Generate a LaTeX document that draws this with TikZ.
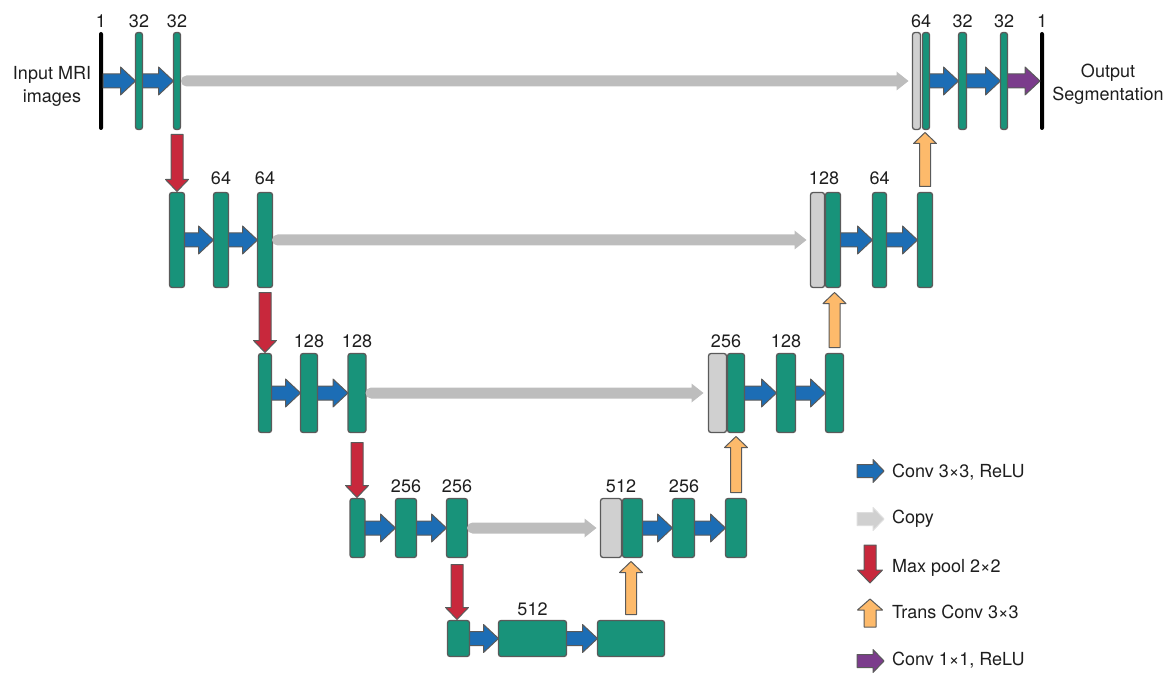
\documentclass[tikz,border=0pt]{standalone}
\usepackage{fontspec}
\setmainfont{TeX Gyre Heros}
\usetikzlibrary{calc}

\definecolor{tealc}{HTML}{18937A}
\definecolor{edgec}{HTML}{5A5A5A}
\definecolor{bluec}{HTML}{1C6DB5}
\definecolor{catc}{HTML}{D0D0D0}
\definecolor{copyc}{HTML}{BDBDBD}
\definecolor{poolc}{HTML}{C8283C}
\definecolor{transc}{HTML}{FDBA6B}
\definecolor{purpc}{HTML}{7B3C8C}
\definecolor{inkc}{HTML}{1E1E1E}

% horizontal block arrow: start, end, style, half body, half head, head length
\newcommand\harr[6]{%
  \draw[#3] let \p1=(#1), \p2=(#2) in
    (\x1,{\y1+#4}) -- ({\x2-#6},{\y1+#4}) -- ({\x2-#6},{\y1+#5}) -- (\x2,\y1)
    -- ({\x2-#6},{\y1-#5}) -- ({\x2-#6},{\y1-#4}) -- (\x1,{\y1-#4}) -- cycle;}

% vertical block arrow (up or down): start, end, style, half body, half head, head length
\newcommand\varr[6]{%
  \draw[#3] let \p1=(#1), \p2=(#2), \n1={sign(\y1-\y2)} in
    ({\x1-#4},\y1) -- ({\x1-#4},{\y2+\n1*#6}) -- ({\x1-#5},{\y2+\n1*#6}) -- (\x1,\y2)
    -- ({\x1+#5},{\y2+\n1*#6}) -- ({\x1+#4},{\y2+\n1*#6}) -- ({\x1+#4},\y1) -- cycle;}

% skip connection: grey arrow with a rounded tail
\newcommand\copyarr[2]{%
  \fill[copyc] let \p1=(#1), \p2=(#2) in
    (\x1,{\y1+5.5pt}) -- ({\x2-12pt},{\y1+5.5pt}) -- ({\x2-12pt},{\y1+9.5pt}) -- (\x2,\y1)
    -- ({\x2-12pt},{\y1-9.5pt}) -- ({\x2-12pt},{\y1-5.5pt}) -- (\x1,{\y1-5.5pt})
    arc[start angle=270, end angle=90, radius=5.5pt] -- cycle;}

\begin{document}
\begin{tikzpicture}[x=1pt,y=-1pt,
  every node/.style={font=\fontsize{18}{23}\selectfont, text=inkc, inner sep=0pt, outer sep=0pt},
  fmap/.style={draw=edgec, fill=tealc, line width=1.3pt, rounded corners=2.5pt},
  catmap/.style={draw=edgec, fill=catc, line width=1.3pt, rounded corners=2.5pt},
  iobar/.style={fill=black, minimum width=4pt, minimum height=98pt, rounded corners=2pt},
  lone/.style={minimum height=97pt},
  ltwo/.style={minimum height=95pt},
  lthree/.style={minimum height=79pt},
  lfour/.style={minimum height=59pt},
  lfive/.style={minimum height=36pt},
  lbl/.style={anchor=base},
  conv/.style={fill=bluec, draw=edgec, line width=1pt, line join=round},
  final/.style={fill=purpc, draw=edgec, line width=1pt, line join=round},
  pool/.style={fill=poolc, draw=edgec, line width=1pt, line join=round},
  trans/.style={fill=transc, draw=edgec, line width=1pt, line join=round},
  copykey/.style={fill=catc, draw=catc!70!white, line width=1pt, line join=round},
  legtext/.style={anchor=base west}]

\useasboundingbox (0,0) rectangle (1172,676);

% ---- level 1 ----
\node[iobar] (inp) at (101,81) {};
\node[fmap,lone,minimum width=7pt] (e1a) at (139,81) {};
\node[fmap,lone,minimum width=7pt] (e1b) at (177,81) {};
\node[catmap,lone,minimum width=8pt] (d1g) at (916.5,81) {};
\node[fmap,lone,minimum width=7pt] (d1a) at (926,81) {};
\node[fmap,lone,minimum width=8pt] (d1b) at (962.5,81) {};
\node[fmap,lone,minimum width=7pt] (d1c) at (1004,81) {};
\node[iobar] (outp) at (1042,81) {};

\node[lbl] (t1a) at (101,28) {1};
\node[lbl] (t1b) at (139,28) {32};
\node[lbl] (t1c) at (177,28) {32};
\node[lbl] (t1d) at (921,28) {64};
\node[lbl] (t1e) at (962.5,28) {32};
\node[lbl] (t1f) at (1004,28) {32};
\node[lbl] (t1g) at (1042,28) {1};

% two-line captions: the base anchor sits on the last line
\node[anchor=base, align=center] (intext) at (52,103) {Input MRI\\images};
\node[anchor=base, align=center] (outtext) at (1108,101) {Output\\Segmentation};

% ---- level 2 ----
\node[fmap,ltwo,minimum width=15pt] (e2a) at (177,240) {};
\node[fmap,ltwo,minimum width=15pt] (e2b) at (221,240) {};
\node[fmap,ltwo,minimum width=15pt] (e2c) at (265,240) {};
\node[catmap,ltwo,minimum width=14pt] (d2g) at (817.5,240) {};
\node[fmap,ltwo,minimum width=15pt] (d2a) at (833,240) {};
\node[fmap,ltwo,minimum width=14pt] (d2b) at (879.5,240) {};
\node[fmap,ltwo,minimum width=15pt] (d2c) at (925,240) {};

\node[lbl] (t2a) at (221,185) {64};
\node[lbl] (t2b) at (265,185) {64};
\node[lbl] (t2c) at (824,185) {128};
\node[lbl] (t2d) at (879.5,185) {64};

% ---- level 3 ----
\node[fmap,lthree,minimum width=13pt] (e3a) at (265,393) {};
\node[fmap,lthree,minimum width=17pt] (e3b) at (309,393) {};
\node[fmap,lthree,minimum width=18pt] (e3c) at (357,393) {};
\node[catmap,lthree,minimum width=18pt] (d3g) at (717.5,393) {};
\node[fmap,lthree,minimum width=17pt] (d3a) at (736,393) {};
\node[fmap,lthree,minimum width=19pt] (d3b) at (786,393) {};
\node[fmap,lthree,minimum width=18pt] (d3c) at (834.5,393) {};

\node[lbl] (t3a) at (309,347) {128};
\node[lbl] (t3b) at (357,347) {128};
\node[lbl] (t3c) at (726,347) {256};
\node[lbl] (t3d) at (786,347) {128};

% ---- level 4 ----
\node[fmap,lfour,minimum width=15pt] (e4a) at (357.5,528) {};
\node[fmap,lfour,minimum width=21pt] (e4b) at (406,528) {};
\node[fmap,lfour,minimum width=21pt] (e4c) at (457,528) {};
\node[catmap,lfour,minimum width=21pt] (d4g) at (611,528) {};
\node[fmap,lfour,minimum width=20pt] (d4a) at (632.5,528) {};
\node[fmap,lfour,minimum width=22pt] (d4b) at (683.5,528) {};
\node[fmap,lfour,minimum width=21pt] (d4c) at (736,528) {};

\node[lbl] (t4a) at (406,492) {256};
\node[lbl] (t4b) at (457,492) {256};
\node[lbl] (t4c) at (621,492) {512};
\node[lbl] (t4d) at (684,492) {256};

% ---- bottleneck ----
\node[fmap,lfive,minimum width=22pt] (b1) at (458.5,638.5) {};
\node[fmap,lfive,minimum width=68pt] (b2) at (532.5,638.5) {};
\node[fmap,lfive,minimum width=67pt] (b3) at (631,638.5) {};
\node[lbl] (t5a) at (532.5,615) {512};

% ---- convolutions ----
\harr{inp.east}{e1a.west}{conv}{7pt}{14pt}{15pt}
\harr{e1a.east}{e1b.west}{conv}{7pt}{14pt}{15pt}
\harr{d1a.east}{d1b.west}{conv}{7pt}{14pt}{15pt}
\harr{d1b.east}{d1c.west}{conv}{7pt}{14pt}{15pt}
\harr{d1c.east}{outp.west}{final}{7pt}{14pt}{15pt}

\harr{e2a.east}{e2b.west}{conv}{7pt}{14pt}{15pt}
\harr{e2b.east}{e2c.west}{conv}{7pt}{14pt}{15pt}
\harr{d2a.east}{d2b.west}{conv}{7pt}{14pt}{15pt}
\harr{d2b.east}{d2c.west}{conv}{7pt}{14pt}{15pt}

\harr{e3a.east}{e3b.west}{conv}{7pt}{14pt}{15pt}
\harr{e3b.east}{e3c.west}{conv}{7pt}{14pt}{15pt}
\harr{d3a.east}{d3b.west}{conv}{7pt}{14pt}{15pt}
\harr{d3b.east}{d3c.west}{conv}{7pt}{14pt}{15pt}

\harr{e4a.east}{e4b.west}{conv}{7pt}{14pt}{15pt}
\harr{e4b.east}{e4c.west}{conv}{7pt}{14pt}{15pt}
\harr{d4a.east}{d4b.west}{conv}{7pt}{14pt}{15pt}
\harr{d4b.east}{d4c.west}{conv}{7pt}{14pt}{15pt}

\harr{b1.east}{b2.west}{conv}{7pt}{14pt}{15pt}
\harr{b2.east}{b3.west}{conv}{7pt}{14pt}{15pt}

% ---- skip connections ----
\copyarr{$(e1b.east)+(6,0)$}{$(d1g.west)+(-4,0)$}
\copyarr{$(e2c.east)+(5,0)$}{$(d2g.west)+(-4,0)$}
\copyarr{$(e3c.east)+(5,0)$}{$(d3g.west)+(-5,0)$}
\copyarr{$(e4c.east)+(5,0)$}{$(d4g.west)+(-4,0)$}

% ---- max pooling ----
\varr{$(e1b.south)+(0,5)$}{$(e2a.north)+(0,-1)$}{pool}{6pt}{11.5pt}{12pt}
\varr{$(e2c.south)+(0,5)$}{$(e3a.north)+(0,-1)$}{pool}{6pt}{11.5pt}{12pt}
\varr{$(e3c.south)+(0,10)$}{$(e4a.north)+(0,-1)$}{pool}{6pt}{11.5pt}{12pt}
\varr{$(e4c.south)+(0,7)$}{$(b1.north)+(0,-1)$}{pool}{6pt}{11.5pt}{12pt}

% ---- transposed convolutions ----
\varr{$(b3.north)+(0,-6)$}{$(d4a.south)+(0,4)$}{trans}{5.5pt}{11.5pt}{11pt}
\varr{$(d4c.north)+(0,-6)$}{$(d3a.south)+(0,4)$}{trans}{5.5pt}{11.5pt}{11pt}
\varr{$(d3c.north)+(0,-6)$}{$(d2a.south)+(0,5)$}{trans}{5.5pt}{11.5pt}{11pt}
\varr{$(d2c.north)+(0,-6)$}{$(d1a.south)+(0,3)$}{trans}{5.5pt}{11.5pt}{11pt}

% ---- legend ----
\coordinate (k1s) at (857,471); \coordinate (k1e) at (884,471);
\coordinate (k2s) at (857,519); \coordinate (k2e) at (884,519);
\coordinate (k3s) at (870,545); \coordinate (k3e) at (870,583);
\coordinate (k4s) at (870,627); \coordinate (k4e) at (870,599);
\coordinate (k5s) at (857,661); \coordinate (k5e) at (884,661);
\harr{k1s}{k1e}{conv}{6.5pt}{11.5pt}{11pt}
\harr{k2s}{k2e}{copykey}{6.5pt}{11.5pt}{11pt}
\varr{k3s}{k3e}{pool}{6pt}{12.5pt}{13pt}
\varr{k4s}{k4e}{trans}{6pt}{12.5pt}{11pt}
\harr{k5s}{k5e}{final}{6.5pt}{11.5pt}{11pt}

\node[legtext] (g1) at (892,477) {Conv 3×3, ReLU};
\node[legtext] (g2) at (892,523) {Copy};
\node[legtext] (g3) at (892,572) {Max pool 2×2};
\node[legtext] (g4) at (892,618) {Trans Conv 3×3};
\node[legtext] (g5) at (892,665) {Conv 1×1, ReLU};

\end{tikzpicture}
\end{document}
